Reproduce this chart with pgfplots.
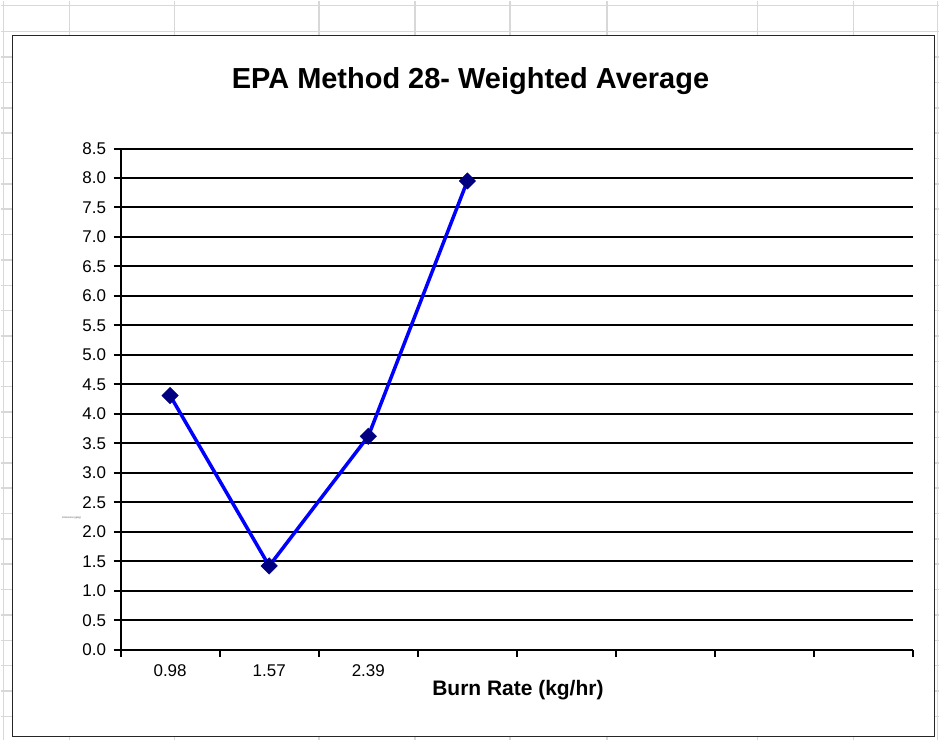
\documentclass[border=0pt]{standalone}
\usepackage{pgfplots}
\pgfplotsset{compat=1.18}
\usepackage{fontspec}
\setmainfont{Liberation Sans}
\definecolor{sheetgrid}{RGB}{216,216,216}
\definecolor{navymark}{RGB}{0,0,128}
\newcommand{\tickfont}{\fontsize{17bp}{20bp}\selectfont}
\begin{document}
\begin{tikzpicture}[x=1bp,y=1bp]
% page background
\fill[white] (0,0) rectangle (940,740);
% spreadsheet grid
\foreach \yy in {5,31,56.4,81.8,107.2,132.6,158,183.4,208.8,234.2,259.6,285,310.4,335.8,361.2,386.6,412,437.4,462.8,488.2,513.6,539,564.4,589.8,615.2,640.6,666,691.4,716.8}
  \draw[sheetgrid, line width=1.5bp] (0,740-\yy) -- (940,740-\yy);
\foreach \xx in {3,69,174,319,415,510,607,758,854,938}
  \draw[sheetgrid, line width=1.5bp] (\xx,0) -- (\xx,740);
% chart area
\draw[black!85, line width=1.5bp, fill=white] (12,705) rectangle (935,3);
% title
\node[anchor=base, font=\bfseries\fontsize{29bp}{34bp}\selectfont] at (470.5,652) {EPA Method 28- Weighted Average};
% ghost y label
\node[font=\fontsize{2.5bp}{3bp}\selectfont, text=black!70] at (71,740-518) {Emissions (g/kg)};
\begin{axis}[
  at={(120bp,90bp)}, anchor=south west,
  width=794bp, height=502bp, scale only axis,
  xmin=0.5, xmax=8.5, ymin=0, ymax=8.5,
  axis x line*=bottom, axis y line*=left,
  axis line style={-, line width=2bp, black},
  ytick={0,0.5,...,8.5},
  y tick label style={font=\tickfont, xshift=-4bp, /pgf/number format/.cd, fixed, fixed zerofill, precision=1, assume math mode=true},
  x tick label style={font=\tickfont},
  xtick={0.5,1.5,...,8.5},
  xticklabels={},
  extra x ticks={1,2,3},
  extra x tick labels={0.98,1.57,2.39},
  extra x tick style={major tick length=0pt, x tick label style={font=\tickfont, text height=12.4bp, text depth=0pt, yshift=-11bp}},
  tick align=outside,
  major tick length=7bp,
  tick style={black, line width=2bp},
  ymajorgrids,
  grid style={black, line width=2bp},
  /pgf/number format/assume math mode=true,
  clip=false,
]
\addplot[blue, line width=3.5bp, mark=square*, mark size=5.8bp,
  mark options={rotate=45, fill=navymark, draw=navymark, line width=0.5bp}]
  coordinates {(1,4.31) (2,1.42) (3,3.62) (4,7.95)};
\end{axis}
% x label
\node[anchor=base, font=\bfseries\fontsize{21bp}{25bp}\selectfont] at (518,44) {Burn Rate (kg/hr)};
\end{tikzpicture}
\end{document}
